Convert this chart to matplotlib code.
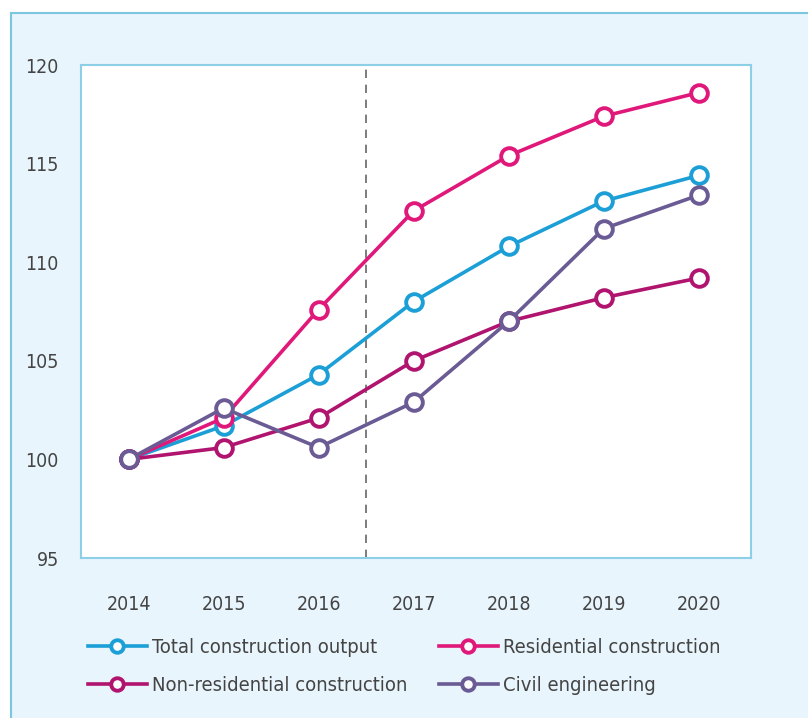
import numpy as np
import matplotlib.pyplot as plt
from matplotlib.patches import Rectangle

years = [2014, 2015, 2016, 2017, 2018, 2019, 2020]
total = [100, 101.7, 104.3, 108.0, 110.8, 113.1, 114.4]
residential = [100, 102.1, 107.6, 112.6, 115.4, 117.4, 118.6]
non_residential = [100, 100.6, 102.1, 105.0, 107.0, 108.2, 109.2]
civil = [100, 102.6, 100.6, 102.9, 107.0, 111.7, 113.4]

labels = ["Total construction output", "Residential construction",
          "Non-residential construction", "Civil engineering"]
colors = ["#1c9fd6", "#e0187a", "#b0146e", "#6a5b94"]

plt.rcParams['font.family'] = ['DejaVu Sans']
plt.rcParams['font.stretch'] = 'condensed'

fig = plt.figure(figsize=(8.08, 7.18), dpi=100)
fig.patch.set_facecolor("white")

# light blue panel behind the chart
panel = Rectangle((11 / 808, -0.05), 1.1, 1 - 13 / 718 + 0.05,
                  transform=fig.transFigure, facecolor="#e8f5fc",
                  edgecolor="#7cc6e0", linewidth=1.5, zorder=-10)
fig.patches.append(panel)

ax = fig.add_axes([81 / 808, 1 - 558 / 718, 670 / 808, 493 / 718])
ax.set_facecolor("white")

series = [total, residential, non_residential, civil]
handles = []
for vals, lab, col in zip(series, labels, colors):
    h, = ax.plot(years, vals, color=col, lw=2.6, marker="o", ms=12,
                 mfc="white", mec=col, mew=2.8, label=lab)
    handles.append(h)

ax.axvline(2016.5, color="#666666", lw=1.2, ls=(0, (5, 4)), zorder=0)

ax.set_ylim(95, 120)
ax.set_xlim(2013.5, 2020.55)
ax.set_yticks([95, 100, 105, 110, 115, 120])
ax.set_xticks(years)
ax.tick_params(length=0, labelsize=14, colors="#444444")
ax.tick_params(axis="y", pad=16)
ax.tick_params(axis="x", pad=27)
for sp in ax.spines.values():
    sp.set_color("#8ccfe6")
    sp.set_linewidth(1.5)

order = [0, 2, 1, 3]
fig.legend([handles[i] for i in order], [labels[i] for i in order],
           loc="upper left", bbox_to_anchor=(70 / 808, 1 - 620 / 718),
           ncol=2, frameon=False, fontsize=14.5, handlelength=2.9,
           handletextpad=0.25, columnspacing=1.6, labelspacing=0.95,
           markerscale=0.75, labelcolor="#444444")

fig.savefig("out.png", dpi=100)
